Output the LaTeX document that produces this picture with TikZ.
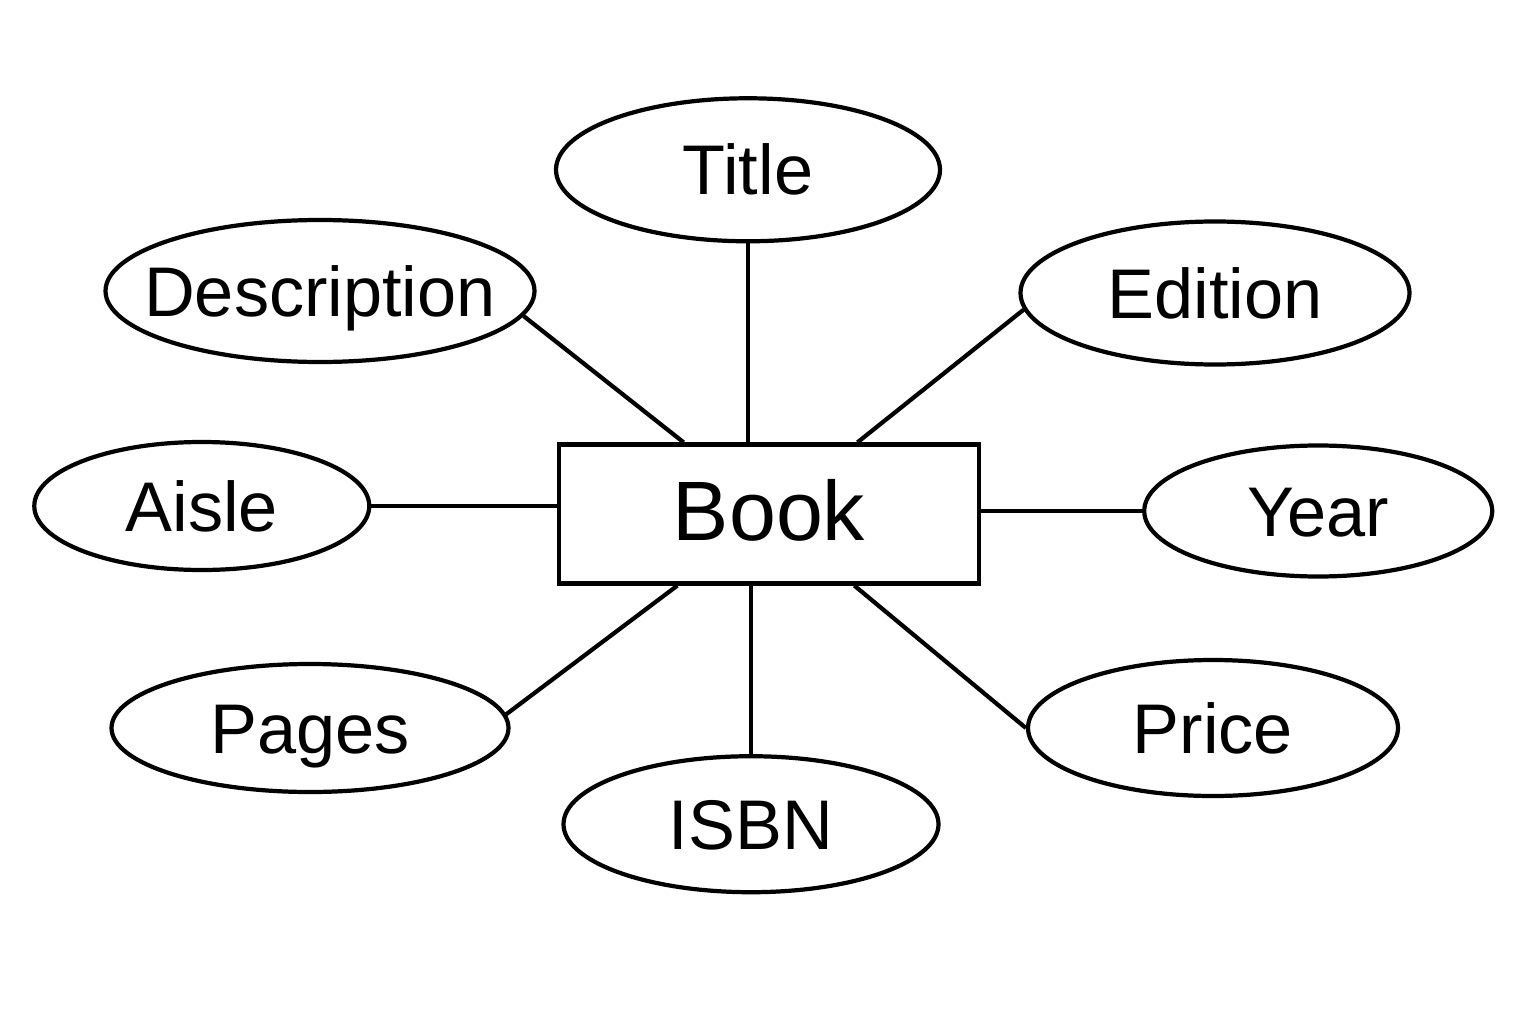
\documentclass[tikz,border=0pt]{standalone}
\usepackage{fontspec}
\setmainfont{Liberation Sans}
\usetikzlibrary{shapes, positioning}
\newcommand{\attrtext}[1]{\makebox[0pt]{#1}}

\begin{document}
\begin{tikzpicture}[entity/.style={draw, line width=1.2pt, minimum width=4.2cm, minimum height=1.39cm, text height=0.62cm, text depth=0.1cm, font=\fontsize{24}{28}\selectfont},
        attr/.style={draw, ellipse, line width=1.2pt, inner sep=0pt, text height=0.58cm, text depth=0.08cm, font=\fontsize{20}{24}\selectfont},
        link/.style={line width=1.2pt}]
        \useasboundingbox (0,0) rectangle (15.36,10.24);
        \node[entity] (book) at (7.69,5.10) {Book};

        \node[attr, minimum width=3.84cm, minimum height=1.43cm] (title) [above=1.99cm of book, xshift=-2.1mm] {\attrtext{Title}};
        \node[attr, minimum width=3.75cm, minimum height=1.36cm] (isbn) [below=1.685cm of book, xshift=-1.8mm] {\attrtext{ISBN}};
        \node[attr, minimum width=3.35cm, minimum height=1.28cm] (aisle) [left=1.855cm of book, yshift=0.8mm] {\attrtext{Aisle}};
        \node[attr, minimum width=3.48cm, minimum height=1.31cm] (year) [right=1.61cm of book, yshift=0.3mm] {\attrtext{Year}};

        % diagonal ones
        \node[attr, minimum width=4.29cm, minimum height=1.42cm] (desc) at (3.20,7.33) {\attrtext{Description}};
        \node[attr, minimum width=3.89cm, minimum height=1.43cm] (edition) at (12.15,7.31) {\attrtext{Edition}};
        \node[attr, minimum width=3.97cm, minimum height=1.28cm] (pages) at (3.10,2.96) {\attrtext{Pages}};
        \node[attr, minimum width=3.70cm, minimum height=1.36cm] (price) at (12.13,2.96) {\attrtext{Price}};

        \draw[link] (title) -- (title |- book.north);
        \draw[link] (isbn) -- (isbn |- book.south);
        \draw[link] (aisle) -- (aisle -| book.west);
        \draw[link] (year) -- (year -| book.east);
        \draw[link] (desc.-7) -- (book.140);
        \draw[link] (edition.185) -- (book.39);
        \draw[link] (pages.4) -- (book.218);
        \draw[link] (price.west) -- (book.320);
    \end{tikzpicture}
\end{document}
